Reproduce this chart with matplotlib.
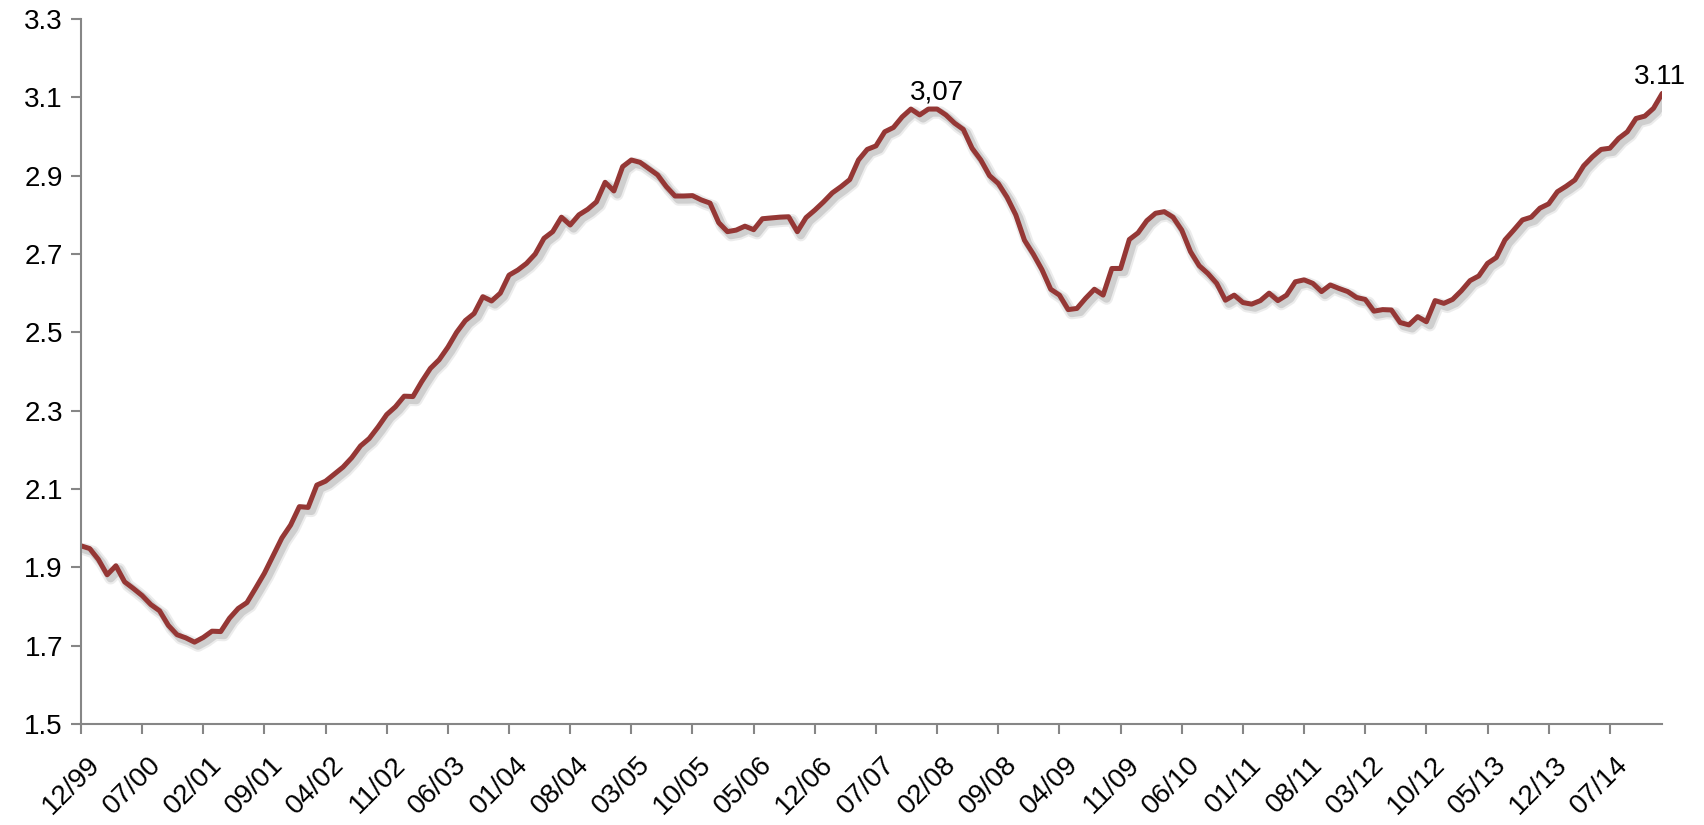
import numpy as np
import pandas as pd
import matplotlib
matplotlib.use("Agg")
import matplotlib.pyplot as plt
import matplotlib.patheffects as pe
from matplotlib.transforms import ScaledTranslation

plt.rcParams['font.family'] = ['Liberation Sans', 'DejaVu Sans']

# monthly series, 12/1999 .. 01/2015
months = pd.date_range("1999-12-01", periods=182, freq="MS")
values = [
    1.955, 1.948, 1.920, 1.881, 1.904, 1.863, 1.846, 1.828, 1.805, 1.789,
    1.752, 1.728, 1.720, 1.709, 1.721, 1.737, 1.736, 1.770, 1.795, 1.810,
    1.847, 1.885, 1.930, 1.975, 2.008, 2.055, 2.053, 2.110, 2.120, 2.138,
    2.156, 2.180, 2.210, 2.229, 2.258, 2.290, 2.310, 2.337, 2.336, 2.374,
    2.408, 2.430, 2.462, 2.500, 2.530, 2.548, 2.591, 2.580, 2.600, 2.646,
    2.659, 2.676, 2.700, 2.740, 2.757, 2.794, 2.774, 2.800, 2.814, 2.833,
    2.883, 2.861, 2.923, 2.940, 2.934, 2.918, 2.902, 2.872, 2.848, 2.848,
    2.849, 2.838, 2.830, 2.780, 2.757, 2.761, 2.771, 2.762, 2.790, 2.792,
    2.794, 2.795, 2.757, 2.793, 2.812, 2.833, 2.856, 2.872, 2.890, 2.940,
    2.967, 2.976, 3.012, 3.023, 3.050, 3.070, 3.055, 3.070, 3.070, 3.055,
    3.034, 3.018, 2.970, 2.940, 2.900, 2.880, 2.845, 2.800, 2.735, 2.700,
    2.660, 2.610, 2.595, 2.558, 2.561, 2.587, 2.610, 2.595, 2.663, 2.663,
    2.737, 2.754, 2.785, 2.804, 2.808, 2.794, 2.761, 2.706, 2.670, 2.650,
    2.625, 2.582, 2.595, 2.576, 2.572, 2.581, 2.600, 2.581, 2.595, 2.629,
    2.634, 2.625, 2.604, 2.621, 2.612, 2.604, 2.589, 2.584, 2.554, 2.558,
    2.557, 2.525, 2.519, 2.540, 2.527, 2.581, 2.574, 2.584, 2.606, 2.632,
    2.644, 2.676, 2.691, 2.736, 2.761, 2.787, 2.794, 2.817, 2.828, 2.859,
    2.873, 2.889, 2.925, 2.948, 2.967, 2.970, 2.995, 3.012, 3.046, 3.052,
    3.072, 3.110,
]
labels = [m.strftime("%m/%y") for m in months]
peak_idx, peak_text = 98, "3,07"
last_text = "3.11"

line_col = "#953735"
axis_col = "#868686"

fig = plt.figure(figsize=(17.04, 8.25), dpi=100)
ax = fig.add_axes([0.0475, 0.1224, 0.928, 0.8546])

x = np.arange(len(values))
ax.plot(x, values, color=line_col, lw=3.6, solid_joinstyle="round",
        solid_capstyle="round",
        path_effects=[
            pe.SimpleLineShadow(offset=(2.5, -2.5), shadow_color="0.3", alpha=0.10, linewidth=9),
            pe.SimpleLineShadow(offset=(2.5, -2.5), shadow_color="0.3", alpha=0.18, linewidth=6),
            pe.Normal()])

ax.annotate(peak_text, (peak_idx, values[peak_idx]), xytext=(0, 7),
            textcoords="offset points", ha="center", va="baseline", fontsize=20)
ax.annotate(last_text, (x[-1], values[-1]), xytext=(-2, 7),
            textcoords="offset points", ha="center", va="baseline", fontsize=20,
            annotation_clip=False)

ax.set_xlim(0, len(values) - 1)
ax.set_ylim(1.5, 3.3)
ax.set_yticks(np.arange(1.5, 3.31, 0.2))
ax.set_yticklabels([f"{v:.1f}" for v in np.arange(1.5, 3.31, 0.2)])
ax.set_xticks(x[::7])
ax.set_xticklabels(labels[::7], rotation=45, ha="right", rotation_mode="anchor")

for side in ("top", "right"):
    ax.spines[side].set_visible(False)
for side in ("left", "bottom"):
    ax.spines[side].set_color(axis_col)
    ax.spines[side].set_linewidth(1.5)
ax.tick_params(direction="out", color=axis_col, width=1.5, length=7,
               labelsize=20, labelcolor="black", pad=6)
ax.tick_params(axis="x", pad=13)

# nudge the rotated month labels a little to the right of their ticks
shift = ScaledTranslation(4 / 72, 0, fig.dpi_scale_trans)
for lbl in ax.get_xticklabels():
    lbl.set_transform(lbl.get_transform() + shift)

fig.savefig("out.png", dpi=100)
